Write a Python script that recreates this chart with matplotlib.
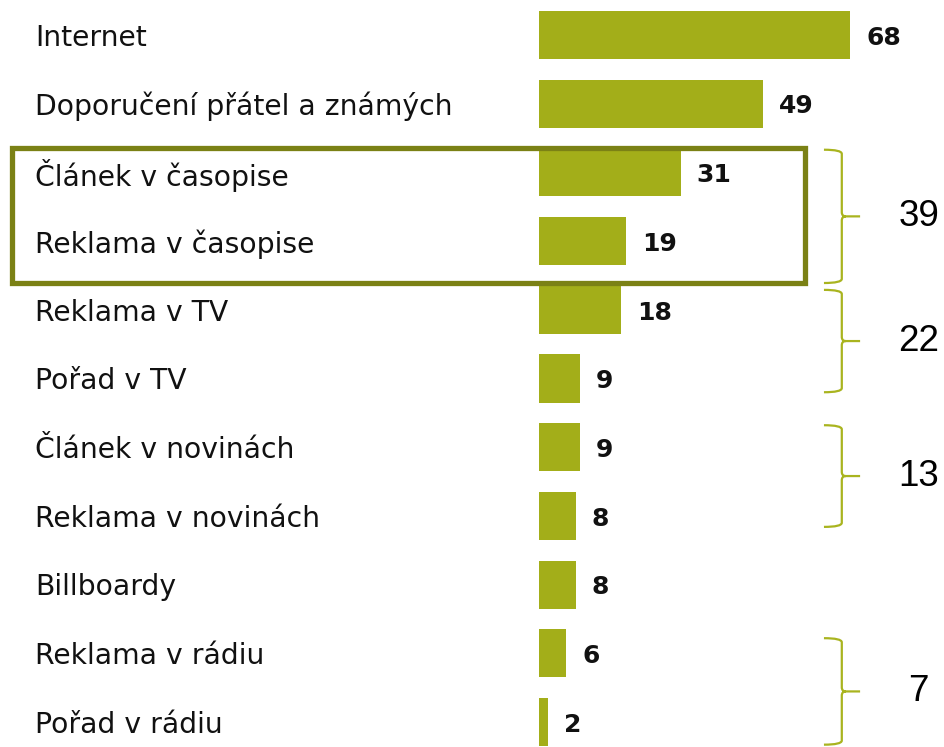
import matplotlib.pyplot as plt
from matplotlib.patches import Rectangle
from matplotlib.path import Path
from matplotlib.patches import PathPatch

categories = ["Internet", "Doporučení přátel a známých", "Článek v časopise",
              "Reklama v časopise", "Reklama v TV", "Pořad v TV",
              "Článek v novinách", "Reklama v novinách", "Billboardy",
              "Reklama v rádiu", "Pořad v rádiu"]
values = [68, 49, 31, 19, 18, 9, 9, 8, 8, 6, 2]

# brace groups: (first row, last row, total)
groups = [(2, 3, 39), (4, 5, 22), (6, 7, 13), (9, 10, 7)]
# vertical extent of each brace relative to its rows (top pad, bottom pad)
brace_pad = [(0.33, 0.61), (0.29, 0.20), (0.32, 0.16), (0.22, 0.33)]

bar_color = "#a3ae19"
brace_color = "#a9b41f"
box_color = "#7b8115"

fig = plt.figure(figsize=(9.45, 7.47), dpi=100)
ax = fig.add_axes([0, 0, 1, 1])

px = 4.574  # pixels per unit
ax.set_xlim(-539 / px, (945 - 539) / px)
ax.set_ylim((747 - 35) / 68.7, -35 / 68.7)
ax.axis("off")

rows = list(range(len(categories)))
ax.barh(rows, values, height=0.7, color=bar_color)

for r, (cat, v) in enumerate(zip(categories, values)):
    ax.text(-110.2, r + 0.04, cat, fontsize=20.3, va="center", ha="left",
            family="DejaVu Sans", color="#111111")
    ax.text(v + 3.5, r + 0.04, str(v), fontsize=18, fontweight="bold",
            va="center", ha="left", family="DejaVu Sans", color="#111111")

# highlight box around the magazine rows
ax.add_patch(Rectangle((-115.2, 1.645), 173.4, 1.965, fill=False,
                       edgecolor=box_color, linewidth=3.8, zorder=3))

# braces
x0, x1, x2 = 62.3, 66.2, 70.2
for (a, b, total), (pt, pb) in zip(groups, brace_pad):
    top, bot = a - pt, b + pb
    mid = (top + bot) / 2
    c = 0.06
    verts = [(x0, top), (x1, top), (x1, top + c),
             (x1, mid - c), (x1, mid), (x1 + 0.9, mid),
             (x2, mid),
             (x1 + 0.9, mid), (x1, mid), (x1, mid + c),
             (x1, bot - c), (x1, bot), (x0, bot)]
    codes = [Path.MOVETO, Path.CURVE3, Path.CURVE3,
             Path.LINETO, Path.CURVE3, Path.CURVE3,
             Path.LINETO,
             Path.MOVETO, Path.CURVE3, Path.CURVE3,
             Path.LINETO, Path.CURVE3, Path.CURVE3]
    ax.add_patch(PathPatch(Path(verts, codes), fill=False,
                           edgecolor=brace_color, linewidth=1.6))
    ax.text(83.0, mid, str(total), fontsize=26.5, va="center", ha="center",
            family="Liberation Sans", color="black")

fig.savefig("out.png", dpi=100)
